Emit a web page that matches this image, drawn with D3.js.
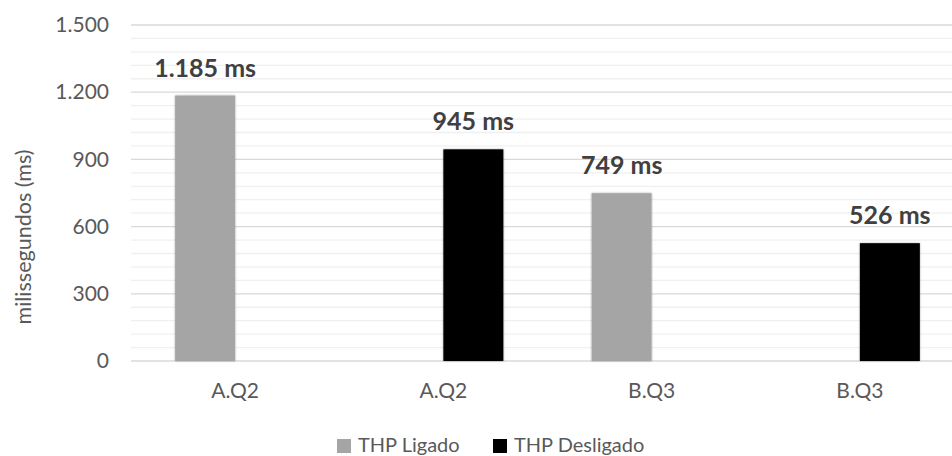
<!DOCTYPE html>
<html>
<head>
<meta charset="utf-8">
<script src="https://cdn.jsdelivr.net/npm/d3@7"></script>
<style>
  html, body { margin: 0; padding: 0; background: #ffffff; }
  svg { display: block; font-family: Lato, "Open Sans", sans-serif; }
</style>
</head>
<body>
<svg id="chart" width="952" height="456"></svg>
<script>
// Query timings with Transparent Huge Pages on / off
const categories = ["A.Q2", "A.Q2", "B.Q3", "B.Q3"];
const seriesNames = ["THP Ligado", "THP Desligado"];
const thpLigado = [1185, null, 749, null];
const thpDesligado = [null, 945, null, 526];
const yTicks = [0, 300, 600, 900, 1200, 1500];
const seriesColors = ["#a5a5a5", "#000000"];

const svg = d3.select("#chart");
const W = 952, H = 456;
const plot = { left: 131, right: 964, top: 25, bottom: 361 };

const ptBR = d3.formatLocale({ decimal: ",", thousands: ".", grouping: [3], currency: ["", ""] });
const fmt = ptBR.format(",");

const x0 = d3.scaleBand().domain(d3.range(categories.length)).range([plot.left, plot.right]);
const x1 = d3.scaleBand().domain(seriesNames).range([0, x0.bandwidth()]).paddingOuter(0.736);
const y = d3.scaleLinear().domain([0, 1500]).range([plot.bottom, plot.top]);

// soft shadow around bars
const defs = svg.append("defs");
const f = defs.append("filter").attr("id", "shadow").attr("x", "-20%").attr("y", "-20%").attr("width", "140%").attr("height", "140%");
f.append("feGaussianBlur").attr("in", "SourceAlpha").attr("stdDeviation", 1.2).attr("result", "b");
f.append("feComponentTransfer").attr("in", "b").attr("result", "s")
  .append("feFuncA").attr("type", "linear").attr("slope", 0.35);
const m = f.append("feMerge");
m.append("feMergeNode").attr("in", "s");
m.append("feMergeNode").attr("in", "SourceGraphic");

// minor gridlines
const minor = d3.range(0, 1501, 60).filter(v => v % 300 !== 0);
svg.append("g").selectAll("line").data(minor).join("line")
  .attr("x1", plot.left).attr("x2", W)
  .attr("y1", d => y(d)).attr("y2", d => y(d))
  .attr("stroke", "#f0f0f0").attr("stroke-width", 1.3);

// major gridlines
svg.append("g").selectAll("line").data(yTicks).join("line")
  .attr("x1", plot.left).attr("x2", W)
  .attr("y1", d => y(d)).attr("y2", d => y(d))
  .attr("stroke", "#d9d9d9").attr("stroke-width", 1.3);

// y axis labels
const yAxis = svg.append("g").attr("transform", `translate(${plot.left},0)`)
  .call(d3.axisLeft(y).tickValues(yTicks).tickFormat(fmt).tickSize(0).tickPadding(22));
yAxis.select(".domain").remove();
yAxis.selectAll("text").attr("fill", "#595959").style("font-size", "21px").style("font-family", "Lato, sans-serif");

// y axis title
svg.append("text")
  .attr("transform", "translate(31,237) rotate(-90)")
  .attr("text-anchor", "middle")
  .attr("fill", "#595959").style("font-size", "21.5px")
  .text("milissegundos (ms)");

// x axis labels
const xAxis = svg.append("g").attr("transform", `translate(0,${plot.bottom})`)
  .call(d3.axisBottom(x0).tickFormat(i => categories[i]).tickSize(0).tickPadding(22));
xAxis.select(".domain").remove();
xAxis.selectAll("text").attr("fill", "#595959").style("font-size", "21px").style("font-family", "Lato, sans-serif");

// bars and value labels
const seriesData = [thpLigado, thpDesligado];
seriesData.forEach((vals, s) => {
  const pts = vals.map((v, i) => ({ i, v })).filter(d => d.v != null);
  const g = svg.append("g");
  g.selectAll("rect").data(pts).join("rect")
    .attr("x", d => x0(d.i) + x1(seriesNames[s]))
    .attr("width", x1.bandwidth())
    .attr("y", d => y(d.v))
    .attr("height", d => y(0) - y(d.v))
    .attr("fill", seriesColors[s])
    .attr("filter", "url(#shadow)");
  g.selectAll("text").data(pts).join("text")
    .attr("x", d => x0(d.i) + x1(seriesNames[s]) + x1.bandwidth() / 2)
    .attr("y", d => y(d.v) - 19)
    .attr("text-anchor", "middle")
    .attr("fill", "#404040")
    .style("font-size", "25px").style("font-weight", "bold")
    .text(d => fmt(d.v) + " ms");
});

// legend
const legend = svg.append("g");
const legendItems = [{ name: seriesNames[0], x: 337 }, { name: seriesNames[1], x: 493 }];
legendItems.forEach((it, s) => {
  legend.append("rect").attr("x", it.x).attr("y", 439).attr("width", 14).attr("height", 14)
    .attr("fill", seriesColors[s]);
  legend.append("text").attr("x", it.x + 21).attr("y", 452)
    .attr("fill", "#595959").style("font-size", "20px")
    .text(it.name);
});
</script>
</body>
</html>
